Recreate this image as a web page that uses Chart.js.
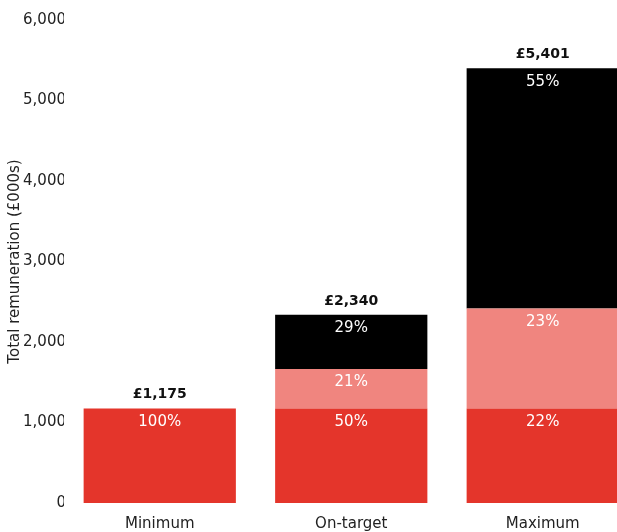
<!DOCTYPE html>
<html>
<head>
<meta charset="utf-8">
<script src="https://cdn.jsdelivr.net/npm/chart.js@4/dist/chart.umd.min.js"></script>
<style>
  html, body { margin: 0; padding: 0; background: #fff; overflow: hidden; }
  #wrap { position: relative; width: 640px; height: 545px; }
</style>
</head>
<body>
<div id="wrap"><canvas id="payChart"></canvas></div>
<script>
// remuneration scenarios, £000s
var categories = ['Minimum', 'On-target', 'Maximum'];
var fixedPay   = [1175, 1175, 1175];
var bonusPay   = [0, 490, 1242];
var ltipPay    = [0, 675, 2984];
var yTicks     = [0, 1000, 2000, 3000, 4000, 5000, 6000];
var yTitle     = 'Total remuneration (£000s)';

var FONT = "'DejaVu Sans', sans-serif";

function fmt(n) {
  return n.toString().replace(/\B(?=(\d{3})+(?!\d))/g, ',');
}

function stackTotal(i) {
  return fixedPay[i] + bonusPay[i] + ltipPay[i];
}

// percentage inside each segment, total above each column, axis title
var barLabels = {
  id: 'barLabels',
  afterDatasetsDraw: function(chart) {
    var ctx = chart.ctx;
    ctx.save();
    ctx.textAlign = 'center';
    chart.data.datasets.forEach(function(ds, di) {
      var meta = chart.getDatasetMeta(di);
      meta.data.forEach(function(bar, i) {
        var v = ds.data[i];
        if (!v) return;
        var pct = Math.round(v / stackTotal(i) * 100);
        ctx.fillStyle = '#ffffff';
        ctx.font = '15px ' + FONT;
        ctx.textBaseline = 'top';
        ctx.fillText(pct + '%', bar.x, bar.y + 6);
      });
    });
    var yScale = chart.scales.y;
    var xScale = chart.scales.x;
    categories.forEach(function(c, i) {
      var total = stackTotal(i);
      ctx.fillStyle = '#111';
      ctx.font = 'bold 14px ' + FONT;
      ctx.textBaseline = 'alphabetic';
      ctx.fillText('£' + fmt(total), xScale.getPixelForValue(i), yScale.getPixelForValue(total) - 10);
    });

    ctx.translate(15, (yScale.top + yScale.bottom) / 2);
    ctx.rotate(-Math.PI / 2);
    ctx.fillStyle = '#222';
    ctx.font = '15px ' + FONT;
    ctx.textBaseline = 'middle';
    ctx.fillText(yTitle, 0, 0);
    ctx.restore();
  }
};

new Chart(document.getElementById('payChart'), {
  type: 'bar',
  data: {
    labels: categories,
    datasets: [
      { label: 'Fixed pay', data: fixedPay, backgroundColor: '#e4352b' },
      { label: 'Annual bonus', data: bonusPay, backgroundColor: '#f0857f' },
      { label: 'LTIP', data: ltipPay, backgroundColor: '#000000' }
    ]
  },
  options: {
    responsive: true,
    maintainAspectRatio: false,
    animation: false,
    layout: { padding: { top: 20, left: 2, right: 1.5, bottom: 0 } },
    categoryPercentage: 1,
    barPercentage: 0.795,
    plugins: {
      legend: { display: false },
      tooltip: { enabled: false }
    },
    scales: {
      x: {
        stacked: true,
        grid: { display: false, drawTicks: false },
        border: { display: false },
        ticks: { color: '#222', font: { family: FONT, size: 15 }, padding: 12 }
      },
      y: {
        stacked: true,
        min: yTicks[0],
        max: yTicks[yTicks.length - 1],
        afterBuildTicks: function(scale) {
          scale.ticks = yTicks.map(function(v) { return { value: v }; });
        },
        afterFit: function(scale) { scale.width = 62; },
        grid: { display: false, drawTicks: false },
        border: { display: false },
        ticks: {
          color: '#222',
          font: { family: FONT, size: 15 },
          padding: -2,
          callback: function(v) { return fmt(v); }
        }
      }
    }
  },
  plugins: [barLabels]
});
</script>
</body>
</html>
